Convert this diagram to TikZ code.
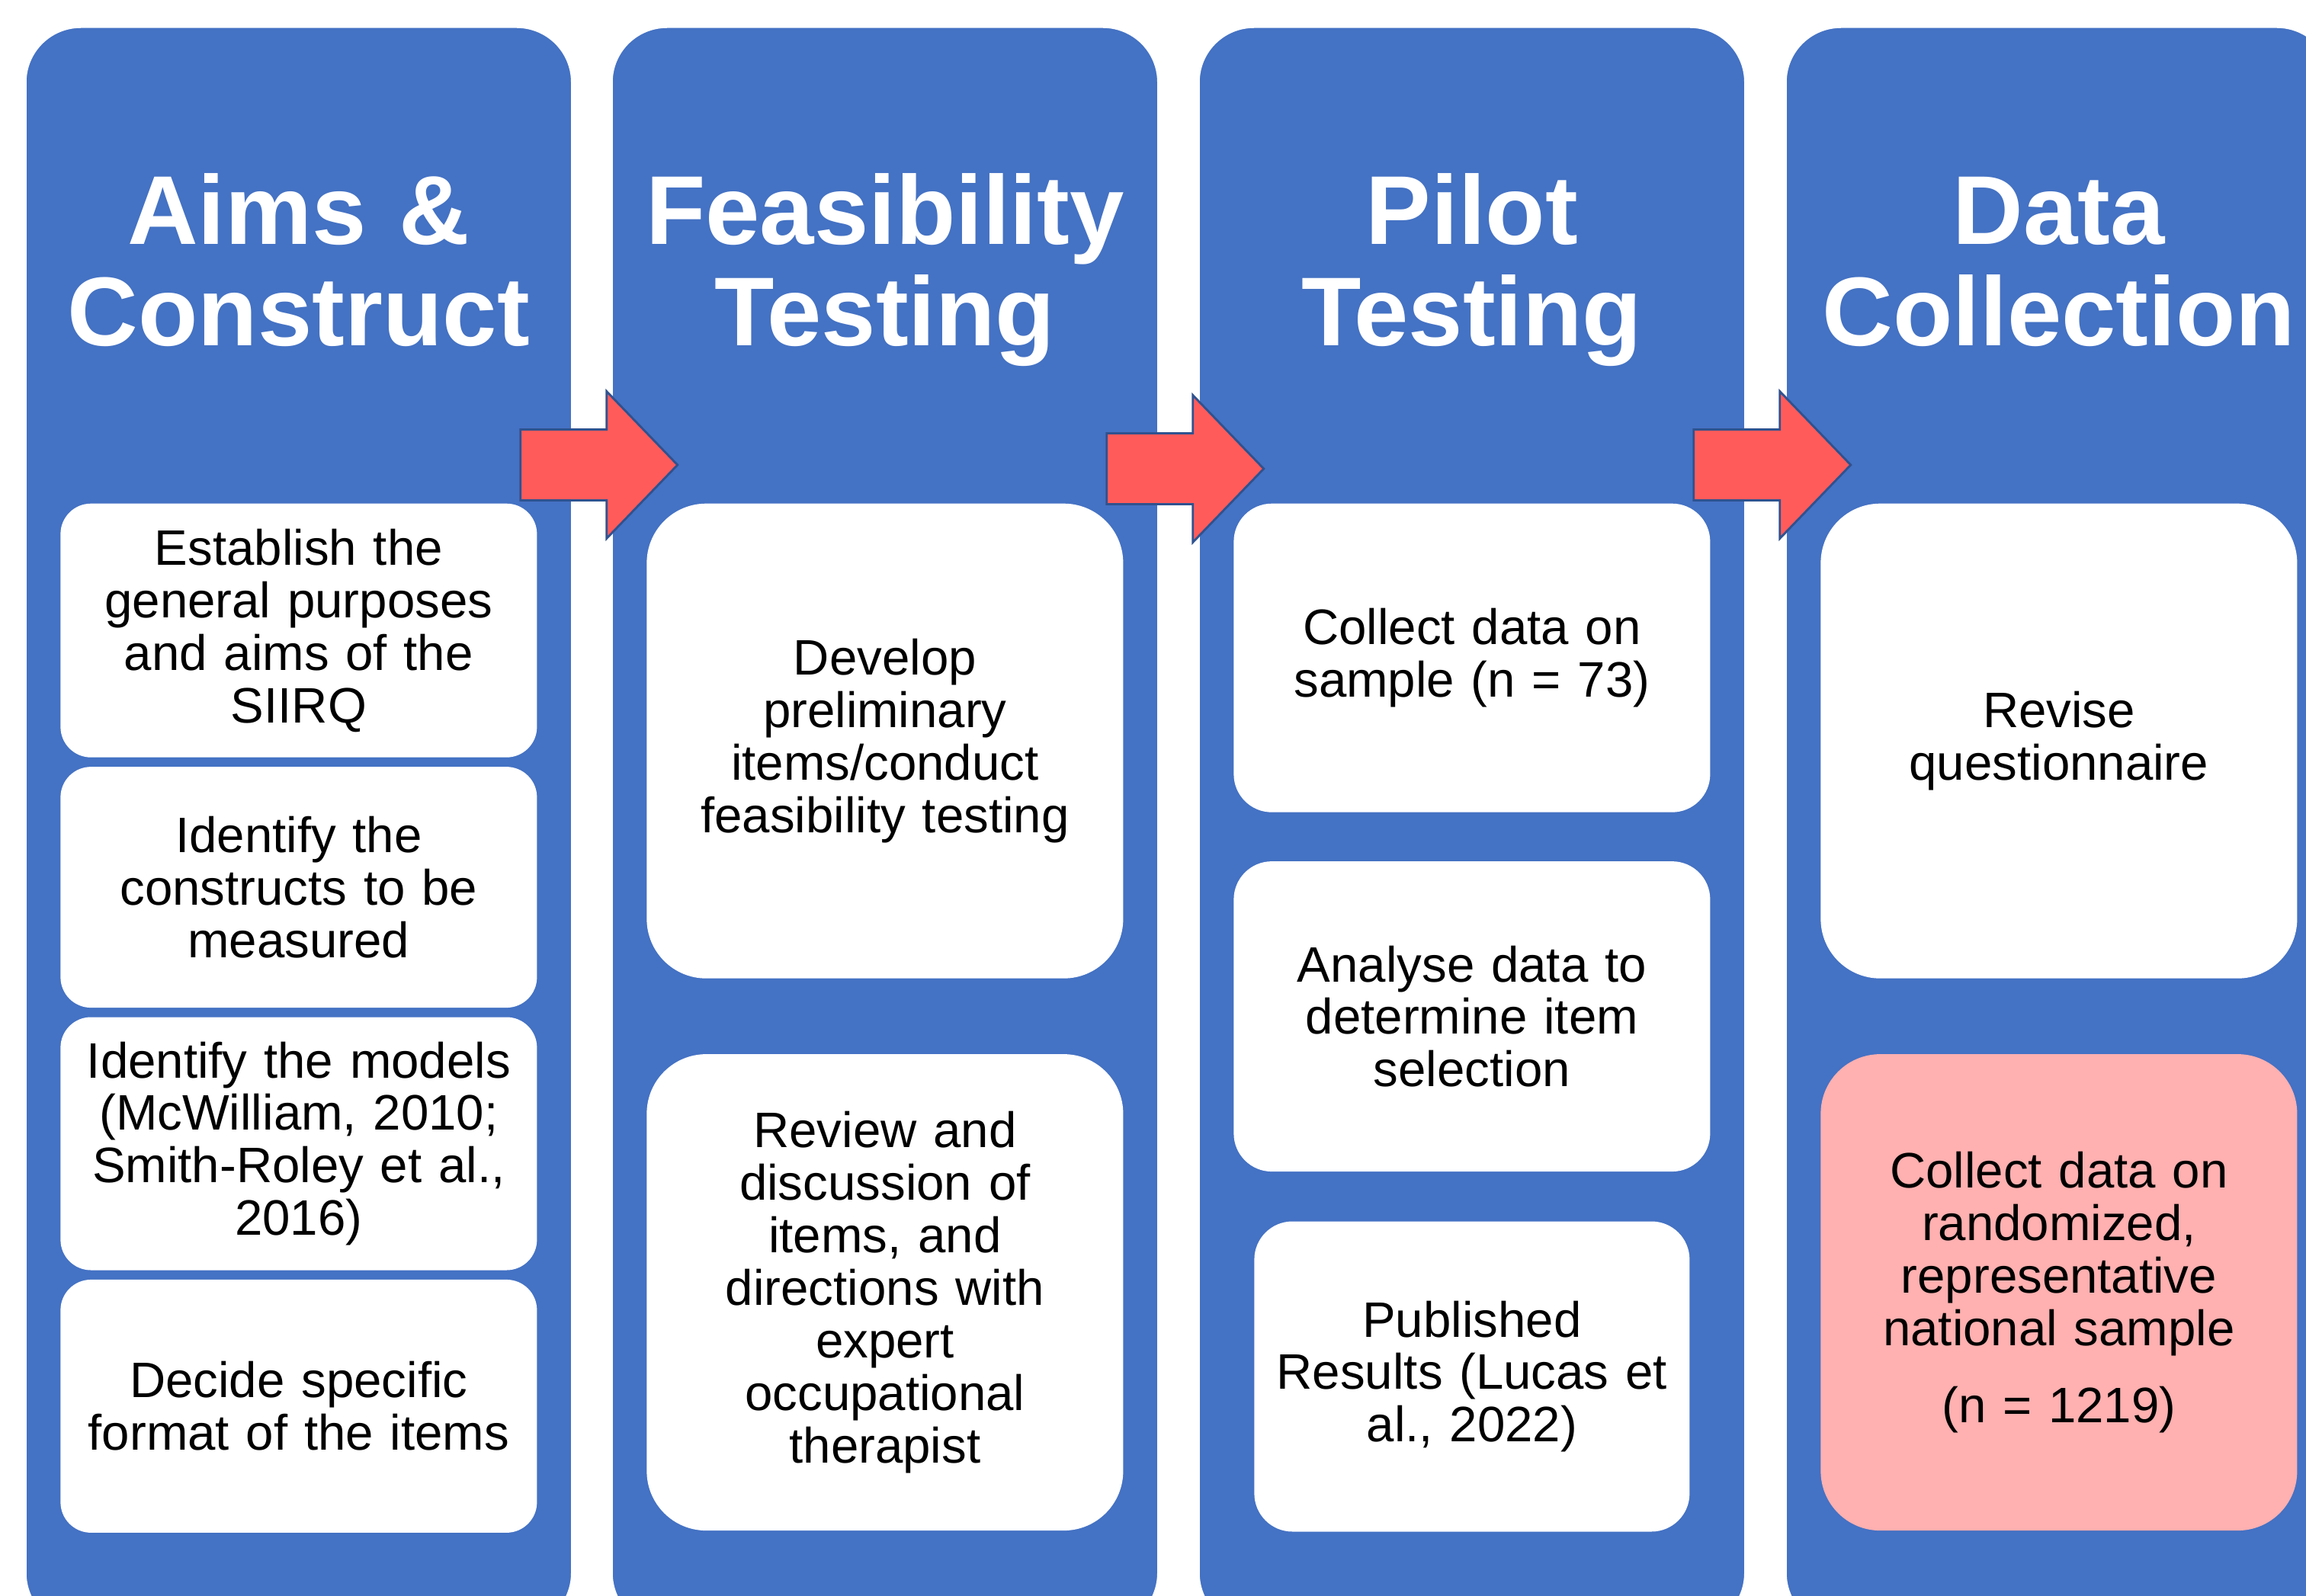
\documentclass[tikz,border=0pt]{standalone}
\usepackage{fontspec}
\setmainfont{Liberation Sans}
\usetikzlibrary{positioning,calc}
\definecolor{Stage}{HTML}{4472C4}
\definecolor{Flow}{HTML}{FF5B5B}
\definecolor{FlowLine}{HTML}{2F528F}
\definecolor{Rose}{HTML}{FFB0B0}
\tikzset{
 stage/.style={fill=Stage, draw=white, line width=0.5pt, rounded corners=0.72cm, minimum width=7.16cm, minimum height=21cm, anchor=north west, inner sep=0pt},
 title/.style={text=white, font=\fontsize{36.5}{37.6}\selectfont\bfseries, text width=7.1cm, align=center, anchor=base, inner sep=0pt},
 task/.style={fill=white, rounded corners=0.4cm, minimum width=6.25cm, text width=6.05cm, align=center, inner sep=0pt, font=\fontsize{18.6}{19.6}\selectfont},
 bigtask/.style={task, rounded corners=0.78cm},
 midtask/.style={task, rounded corners=0.5cm},
 rosetask/.style={bigtask, fill=Rose},
 flow/.style={fill=Flow, draw=FlowLine, line width=0.8pt, line join=miter}
}

\begin{document}
\begin{tikzpicture}[node distance=0.11cm]
\useasboundingbox (0,0) rectangle (30.25,-20.94);

% the four stages
\node[stage] (s1) at (0.33,-0.35) {};
\node[stage] (s2) at (8.02,-0.35) {};
\node[stage] (s3) at (15.72,-0.35) {};
\node[stage] (s4) at (23.42,-0.35) {};

\node[title] at ([yshift=-2.86cm]s1.north) {Aims \&\\Construct};
\node[title] at ([yshift=-2.86cm]s2.north) {Feasibility\\Testing};
\node[title] at ([yshift=-2.86cm]s3.north) {Pilot\\Testing};
\node[title] at ([yshift=-2.86cm]s4.north) {Data\\Collection};

% aims and construct
\node[task, minimum height=3.33cm, anchor=north] (a1) at ([yshift=-6.25cm]s1.north) {Establish the\\general purposes\\and aims of the\\SIIRQ};
\node[task, minimum height=3.16cm, below=of a1] (a2) {Identify the\\constructs to be\\measured};
\node[task, minimum height=3.32cm, below=of a2] (a3) {Identify the models\\(McWilliam, 2010;\\Smith-Roley et al.,\\2016)};
\node[task, minimum height=3.32cm, below=of a3] (a4) {Decide specific\\format of the items};

% feasibility testing
\node[bigtask, minimum height=6.23cm, anchor=north] (f1) at ([yshift=-6.25cm]s2.north) {Develop\\preliminary\\items/conduct\\feasibility testing};
\node[bigtask, minimum height=6.25cm, below=0.98cm of f1] (f2) {Review and\\discussion of\\items, and\\directions with\\expert\\occupational\\therapist};

% pilot testing
\node[midtask, minimum height=4.05cm, anchor=north] (p1) at ([yshift=-6.25cm]s3.north) {Collect data on\\sample (n = 73)};
\node[midtask, minimum height=4.07cm, below=0.63cm of p1] (p2) {Analyse data to\\determine item\\selection};
\node[midtask, minimum height=4.07cm, minimum width=5.71cm, text width=5.5cm, below=0.64cm of p2] (p3) {Published\\Results (Lucas et\\al., 2022)};

% data collection
\node[bigtask, minimum height=6.23cm, anchor=north] (d1) at ([yshift=-6.25cm]s4.north) {Revise\\questionnaire};
\node[rosetask, minimum height=6.25cm, below=0.98cm of d1] (d2) {Collect data on\\randomized,\\representative\\national sample\\[9pt](n = 1219)};

% block arrows between stages
\foreach \s/\dy in {s1/0, s2/-0.05, s3/0} {
  \coordinate (e) at ($(\s.north east)+(0,-5.75+\dy)$);
  \draw[flow] ($(e)+(-0.68,0.465)$) -- ($(e)+(0.45,0.465)$) -- ($(e)+(0.45,0.965)$)
    -- ($(e)+(1.38,0)$) -- ($(e)+(0.45,-0.965)$) -- ($(e)+(0.45,-0.465)$)
    -- ($(e)+(-0.68,-0.465)$) -- cycle;
}
\end{tikzpicture}
\end{document}
